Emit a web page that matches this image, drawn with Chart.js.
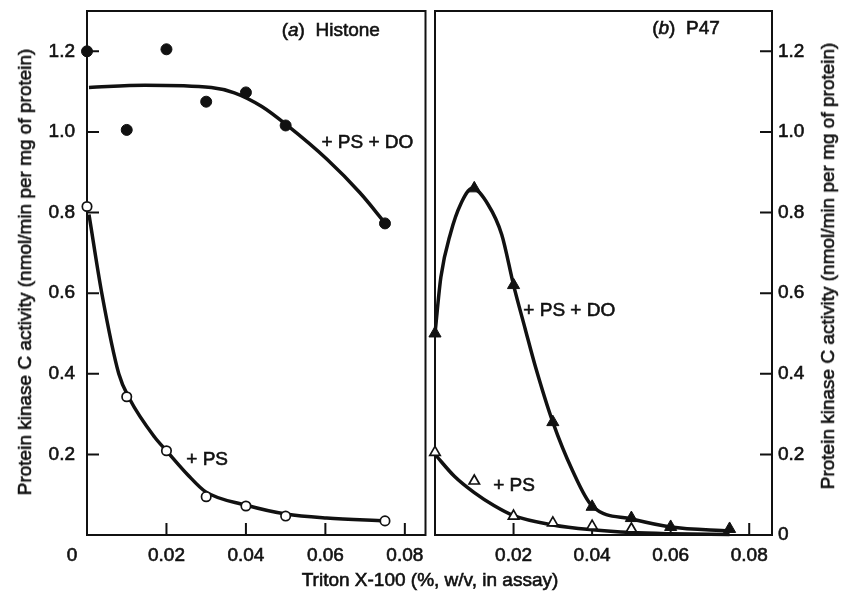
<!DOCTYPE html>
<html>
<head>
<meta charset="utf-8">
<title>Protein kinase C activity vs Triton X-100</title>
<script src="https://cdn.jsdelivr.net/npm/chart.js@4.4.0/dist/chart.umd.min.js"></script>
<style>
  html, body { margin: 0; padding: 0; background: #fff; }
  #page { position: relative; width: 844px; height: 597px; overflow: hidden;
          font-family: 'Liberation Sans', Arial, sans-serif; color: #111; }
  .box { position: absolute; top: 0; height: 597px; }
  #leftBox { left: 0; width: 432px; }
  #rightBox { left: 427px; width: 417px; }
  .title { position: absolute; font-size: 19px; white-space: nowrap; -webkit-text-stroke: 0.6px #111; }
  .ytitle { transform: translate(-50%, -50%) rotate(-90deg); }
  #xtitle { left: 430px; top: 580px; transform: translate(-50%, -50%); }
</style>
</head>
<body>
<div id="page">
  <div class="box" id="leftBox"><canvas id="histoneChart"></canvas></div>
  <div class="box" id="rightBox"><canvas id="p47Chart"></canvas></div>
  <div class="title ytitle" style="left:25px; top:272px;">Protein kinase C activity (nmol/min per mg of protein)</div>
  <div class="title ytitle" style="left:828px; top:266px;">Protein kinase C activity (nmol/min per mg of protein)</div>
  <div class="title" id="xtitle">Triton X-100 (%, w/v, in assay)</div>
</div>
<script>

// (a) Histone
const histoneX = [0, 0.01, 0.02, 0.03, 0.04, 0.05, 0.075];
const histonePsDo = [1.2, 1.005, 1.205, 1.075, 1.098, 1.016, 0.773];
const histonePs = [0.815, 0.343, 0.209, 0.095, 0.072, 0.047, 0.035];

// fitted curves as drawn in the figure
const histonePsDoCurveX = [0.0005, 0.0146, 0.0313, 0.0371, 0.044, 0.0504, 0.0604, 0.0687, 0.0751];
const histonePsDoCurveY = [1.11, 1.116, 1.11, 1.097, 1.063, 1.016, 0.932, 0.849, 0.773];
const histonePsCurveX = [0.0005, 0.0037, 0.008, 0.0107, 0.017, 0.02, 0.0254, 0.0299, 0.0399, 0.0501, 0.0603, 0.0751];
const histonePsCurveY = [0.795, 0.601, 0.40, 0.338, 0.243, 0.209, 0.149, 0.107, 0.0745, 0.052, 0.042, 0.035];

// (b) P47
const p47PsDoX = [0, 0.01, 0.02, 0.03, 0.04, 0.05, 0.06, 0.075];
const p47PsDo = [0.5, 0.86, 0.62, 0.28, 0.07, 0.042, 0.02, 0.015];
const p47PsX = [0, 0.01, 0.02, 0.03, 0.04, 0.05];
const p47Ps = [0.205, 0.134, 0.047, 0.03, 0.022, 0.015];

const p47PsDoCurveX = [0, 0.0015, 0.004, 0.0065, 0.0095, 0.0135, 0.017, 0.02, 0.023, 0.0255, 0.03, 0.035, 0.04, 0.05, 0.06, 0.075];
const p47PsDoCurveY = [0.5, 0.64, 0.75, 0.82, 0.86, 0.82, 0.745, 0.62, 0.51, 0.42, 0.28, 0.16, 0.072, 0.04, 0.02, 0.01];
const p47PsCurveX = [0, 0.005, 0.01, 0.015, 0.02, 0.03, 0.04, 0.05, 0.06, 0.075];
const p47PsCurveY = [0.2, 0.145, 0.105, 0.073, 0.048, 0.025, 0.013, 0.006, 0.003, 0.001];

// axis ticks
const xTickValues = [0, 0.02, 0.04, 0.06, 0.08];
const yTickValues = [0, 0.2, 0.4, 0.6, 0.8, 1.0, 1.2];

// text placed inside the panels (data coordinates)
const histoneNotes = [
    { x: 0.049, y: 1.25, parts: [['(', false], ['a', true], [')  Histone', false]] },
    { x: 0.059, y: 0.974, parts: [['+ PS + DO', false]] },
    { x: 0.025, y: 0.186, parts: [['+ PS', false]] }
];
const p47Notes = [
    { x: 0.0553, y: 1.257, parts: [['(', false], ['b', true], [')  P47', false]] },
    { x: 0.0225, y: 0.557, parts: [['+ PS + DO', false]] },
    { x: 0.0148, y: 0.122, parts: [['+ PS', false]] }
];

const FONT = "'Liberation Sans', Arial, sans-serif";
const INK = '#111';
const TEXT_STROKE = 0.6;
Chart.defaults.font.family = FONT;
Chart.defaults.font.size = 19;
Chart.defaults.color = INK;

function toPoints(xs, ys) {
    return xs.map((x, i) => ({ x: x, y: ys[i] }));
}

function markerSet(xs, ys, style, filled, radius) {
    return {
        data: toPoints(xs, ys),
        showLine: false,
        pointStyle: style,
        pointRadius: radius,
        pointBackgroundColor: filled ? INK : '#fff',
        pointBorderColor: INK,
        pointBorderWidth: filled ? 1 : 1.7,
        clip: false,
        order: 0
    };
}

function curveSet(xs, ys) {
    return {
        data: toPoints(xs, ys),
        showLine: true,
        borderColor: INK,
        borderWidth: 3.5,
        pointRadius: 0,
        cubicInterpolationMode: 'monotone',
        clip: false,
        order: 1
    };
}

// keep the plot area exactly where the layout padding puts it
function noPadding(s) {
    s.paddingLeft = 0;
    s.paddingRight = 0;
    s.paddingTop = 0;
    s.paddingBottom = 0;
}

// frame, inward tick marks and in-panel text
function panelPlugin(side, notes, drawOrigin) {
    return {
        id: 'panel',
        beforeDatasetsDraw(chart) {
            const { ctx, chartArea: a, scales } = chart;
            ctx.save();
            ctx.strokeStyle = INK;
            ctx.lineWidth = 2;
            ctx.strokeRect(a.left, a.top, a.right - a.left, a.bottom - a.top);
            ctx.beginPath();
            xTickValues.forEach(v => {
                if (v === 0) return;
                const px = scales.x.getPixelForValue(v);
                ctx.moveTo(px, a.bottom);
                ctx.lineTo(px, a.bottom - 12);
            });
            yTickValues.forEach(v => {
                if (v === 0) return;
                const py = scales.y.getPixelForValue(v);
                if (side === 'left') {
                    ctx.moveTo(a.left, py);
                    ctx.lineTo(a.left + 12, py);
                } else {
                    ctx.moveTo(a.right, py);
                    ctx.lineTo(a.right - 12, py);
                }
            });
            ctx.stroke();
            ctx.restore();
        },
        afterDraw(chart) {
            const { ctx, chartArea: a, scales } = chart;
            ctx.save();
            ctx.fillStyle = INK;
            ctx.strokeStyle = INK;
            ctx.lineWidth = TEXT_STROKE;
            ctx.textBaseline = 'middle';
            notes.forEach(n => {
                let px = scales.x.getPixelForValue(n.x);
                const py = scales.y.getPixelForValue(n.y);
                n.parts.forEach(p => {
                    ctx.font = (p[1] ? 'italic ' : '') + '19px ' + FONT;
                    ctx.fillText(p[0], px, py);
                    ctx.strokeText(p[0], px, py);
                    px += ctx.measureText(p[0]).width;
                });
            });
            if (drawOrigin) {
                // shared origin label sits left of the axis corner
                ctx.font = '19px ' + FONT;
                ctx.textAlign = 'center';
                ctx.fillText('0', a.left - 15, a.bottom + 21);
                ctx.strokeText('0', a.left - 15, a.bottom + 21);
            }
            ctx.restore();
        }
    };
}

function makeChart(canvasId, side, xMax, padding, yWidth, datasets, notes, drawOrigin) {
    return new Chart(document.getElementById(canvasId), {
        type: 'scatter',
        data: { datasets: datasets },
        options: {
            responsive: true,
            maintainAspectRatio: false,
            animation: false,
            layout: { padding: padding },
            plugins: { legend: { display: false }, tooltip: { enabled: false } },
            scales: {
                x: {
                    type: 'linear',
                    min: 0,
                    max: xMax,
                    afterBuildTicks: s => { s.ticks = xTickValues.map(v => ({ value: v })); },
                    afterFit: s => { s.height = 62; noPadding(s); },
                    grid: { display: false, drawTicks: false },
                    border: { display: false },
                    ticks: {
                        padding: 9,
                        maxRotation: 0,
                        autoSkip: false,
                        textStrokeColor: INK,
                        textStrokeWidth: TEXT_STROKE,
                        callback: v => v === 0 ? '' : v.toFixed(2)
                    }
                },
                y: {
                    type: 'linear',
                    position: side,
                    min: 0,
                    max: 1.3,
                    afterBuildTicks: s => { s.ticks = yTickValues.map(v => ({ value: v })); },
                    afterFit: s => { s.width = yWidth; noPadding(s); },
                    grid: { display: false, drawTicks: false },
                    border: { display: false },
                    ticks: {
                        padding: side === 'left' ? 12 : 6,
                        autoSkip: false,
                        textStrokeColor: INK,
                        textStrokeWidth: TEXT_STROKE,
                        callback: v => v === 0 ? (side === 'left' ? '' : '0') : v.toFixed(1)
                    }
                }
            }
        },
        plugins: [panelPlugin(side, notes, drawOrigin)]
    });
}

makeChart('histoneChart', 'left', 0.0852, { top: 11, right: 3, left: 0, bottom: 0 }, 87, [
    markerSet(histoneX, histonePsDo, 'circle', true, 5.5),
    markerSet(histoneX, histonePs, 'circle', false, 4.7),
    curveSet(histonePsDoCurveX, histonePsDoCurveY),
    curveSet(histonePsCurveX, histonePsCurveY)
], histoneNotes, true);

makeChart('p47Chart', 'right', 0.0858, { top: 11, right: 0, left: 2, bottom: 0 }, 72, [
    markerSet(p47PsDoX, p47PsDo, 'triangle', true, 7),
    markerSet(p47PsX, p47Ps, 'triangle', false, 6),
    curveSet(p47PsDoCurveX, p47PsDoCurveY),
    curveSet(p47PsCurveX, p47PsCurveY)
], p47Notes, false);
</script>
</body>
</html>
